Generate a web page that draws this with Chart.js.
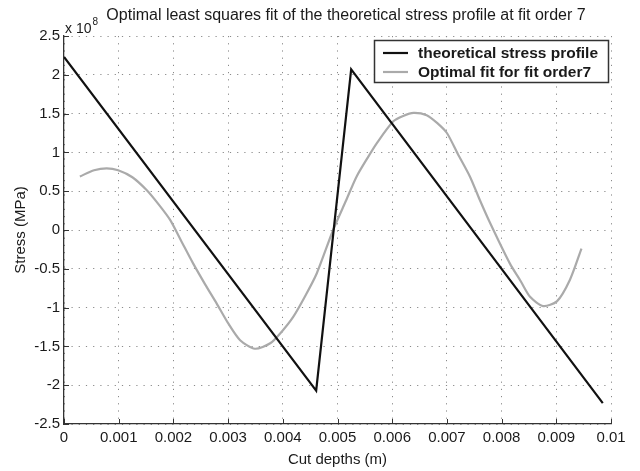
<!DOCTYPE html>
<html>
<head>
<meta charset="utf-8">
<script src="https://cdn.jsdelivr.net/npm/chart.js@4.4.1/dist/chart.umd.min.js"></script>
<style>
  html, body { margin: 0; padding: 0; background: #fff; }
  #wrap { width: 640px; height: 471px; }
</style>
</head>
<body>
<div id="wrap"><canvas id="c" width="640" height="471"></canvas></div>
<script>
// Theoretical stress profile (sawtooth), depth in m, stress in units of 1e8
const profileDepth  = [0, 0.00461, 0.00525, 0.00985];
const profileStress = [2.23, -2.07, 2.07, -2.23];

// Optimal 7th-order fit, sampled along the cut depth
const fitDepth = [0.00029, 0.00055, 0.00078, 0.00099, 0.00125, 0.00151, 0.00173, 0.00194,
  0.00215, 0.00236, 0.00258, 0.00279, 0.00300, 0.00322, 0.00349, 0.00377, 0.00398, 0.00419,
  0.00441, 0.00462, 0.00492, 0.00515, 0.00535, 0.00555, 0.00572, 0.00602, 0.00620, 0.00639,
  0.00663, 0.00682, 0.00700, 0.00720, 0.00742, 0.00760, 0.00779, 0.00815, 0.00835, 0.00852,
  0.00876, 0.00901, 0.00925, 0.00946];
const fitStress = [0.69, 0.77, 0.795, 0.77, 0.68, 0.515, 0.33, 0.13,
  -0.15, -0.43, -0.70, -0.945, -1.20, -1.42, -1.53, -1.46, -1.31, -1.12,
  -0.85, -0.56, 0.0, 0.37, 0.69, 0.93, 1.12, 1.40, 1.47, 1.51,
  1.48, 1.38, 1.25, 0.98, 0.69, 0.39, 0.09, -0.43, -0.66, -0.86,
  -0.98, -0.92, -0.64, -0.24];

const xTicks = [0, 0.001, 0.002, 0.003, 0.004, 0.005, 0.006, 0.007, 0.008, 0.009, 0.01];
const yTicks = [-2.5, -2, -1.5, -1, -0.5, 0, 0.5, 1, 1.5, 2, 2.5];

const seriesLabels = ['theoretical stress profile', 'Optimal fit for fit order7'];
const titleText = 'Optimal least squares fit of the theoretical stress profile at fit order 7';
const xTitle = 'Cut depths (m)';
const yTitle = 'Stress (MPa)';
const yExponent = '8';

const FONT = '"Liberation Sans", Arial, Helvetica, sans-serif';
const TEXT = '#1a1a1a';

const toPoints = (xs, ys) => xs.map((x, i) => ({ x: x, y: ys[i] }));
const fmt = v => String(Number(v.toFixed(4)));

// Title above the axes and the "x 10^8" multiplier
const headerPlugin = {
  id: 'header',
  afterDraw(chart) {
    const { ctx, chartArea: a } = chart;
    ctx.save();
    ctx.fillStyle = TEXT;
    ctx.textBaseline = 'alphabetic';
    ctx.font = '16px ' + FONT;
    ctx.textAlign = 'center';
    ctx.fillText(titleText, 346, 20);
    ctx.textAlign = 'left';
    ctx.font = '14px ' + FONT;
    ctx.fillText('x 10', a.left + 1, a.top - 3);
    const w = ctx.measureText('x 10').width;
    ctx.font = '10px ' + FONT;
    ctx.fillText(yExponent, a.left + 2 + w, a.top - 11);
    ctx.restore();
  }
};

// Inward tick marks on the left and bottom axes
const innerTicksPlugin = {
  id: 'innerTicks',
  afterDraw(chart) {
    const { ctx, chartArea: a, scales } = chart;
    ctx.save();
    ctx.strokeStyle = '#333';
    ctx.lineWidth = 1;
    ctx.beginPath();
    xTicks.forEach(v => {
      const px = Math.round(scales.x.getPixelForValue(v)) + 0.5;
      ctx.moveTo(px, a.bottom); ctx.lineTo(px, a.bottom - 5);
    });
    yTicks.forEach(v => {
      const py = Math.round(scales.y.getPixelForValue(v)) + 0.5;
      ctx.moveTo(a.left, py); ctx.lineTo(a.left + 5, py);
    });
    ctx.stroke();
    ctx.restore();
  }
};

// Boxed legend in the upper right of the plot
const boxLegendPlugin = {
  id: 'boxLegend',
  afterDraw(chart) {
    const { ctx } = chart;
    const x0 = 374, y0 = 40, w = 234, h = 42;
    ctx.save();
    ctx.fillStyle = '#fff';
    ctx.fillRect(x0, y0, w, h);
    ctx.strokeStyle = '#333';
    ctx.lineWidth = 1.5;
    ctx.strokeRect(x0 + 0.5, y0 + 0.5, w, h);
    ctx.font = 'bold 15.5px ' + FONT;
    ctx.textBaseline = 'middle';
    ctx.textAlign = 'left';
    chart.data.datasets.forEach((ds, i) => {
      const y = y0 + 13 + i * 19;
      ctx.strokeStyle = ds.borderColor;
      ctx.lineWidth = ds.borderWidth;
      ctx.beginPath();
      ctx.moveTo(383, y); ctx.lineTo(408, y);
      ctx.stroke();
      ctx.fillStyle = TEXT;
      ctx.fillText(ds.label, 418, y + 1);
    });
    ctx.restore();
  }
};

new Chart(document.getElementById('c'), {
  type: 'line',
  data: {
    datasets: [
      {
        label: seriesLabels[0],
        data: toPoints(profileDepth, profileStress),
        borderColor: '#111111',
        borderWidth: 2.2,
        pointRadius: 0,
        tension: 0,
        fill: false
      },
      {
        label: seriesLabels[1],
        data: toPoints(fitDepth, fitStress),
        borderColor: '#aaaaaa',
        borderWidth: 2.2,
        pointRadius: 0,
        tension: 0.25,
        fill: false
      }
    ]
  },
  options: {
    responsive: false,
    animation: false,
    devicePixelRatio: 1,
    layout: { padding: { top: 36, right: 29, left: 0, bottom: 0 } },
    plugins: {
      legend: { display: false },
      title: { display: false },
      tooltip: { enabled: false }
    },
    scales: {
      x: {
        type: 'linear',
        min: 0,
        max: 0.01,
        afterFit(s) { s.height = 47; },
        afterBuildTicks(s) { s.ticks = xTicks.map(v => ({ value: v })); },
        ticks: {
          callback: v => fmt(v),
          color: TEXT,
          font: { family: FONT, size: 15 },
          padding: 5,
          maxRotation: 0,
          autoSkip: false
        },
        grid: { color: '#8a8a8a', lineWidth: 1, drawTicks: false },
        border: { display: true, color: '#333', width: 1.3, dash: [1.2, 6] },
        title: {
          display: true,
          text: xTitle,
          color: TEXT,
          font: { family: FONT, size: 15 },
          padding: { top: 0, bottom: 2 }
        }
      },
      y: {
        type: 'linear',
        min: -2.5,
        max: 2.5,
        afterFit(s) { s.width = 64; },
        afterBuildTicks(s) { s.ticks = yTicks.map(v => ({ value: v })); },
        ticks: {
          callback: v => fmt(v),
          color: TEXT,
          font: { family: FONT, size: 15 },
          padding: 4,
          autoSkip: false
        },
        grid: { color: '#8a8a8a', lineWidth: 1, drawTicks: false },
        border: { display: true, color: '#333', width: 1.3, dash: [1.2, 6] },
        title: {
          display: true,
          text: yTitle,
          color: TEXT,
          font: { family: FONT, size: 15 },
          padding: { top: 12, bottom: 0 }
        }
      }
    }
  },
  plugins: [headerPlugin, innerTicksPlugin, boxLegendPlugin]
});
</script>
</body>
</html>
